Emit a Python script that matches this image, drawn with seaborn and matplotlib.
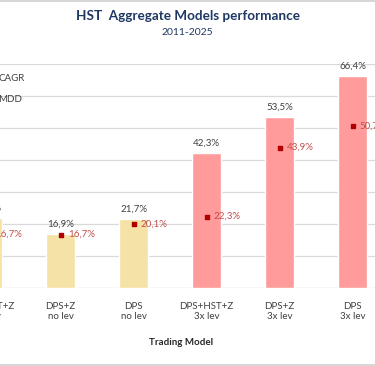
import numpy as np
import pandas as pd
import matplotlib
matplotlib.use("Agg")
import matplotlib.pyplot as plt
import seaborn as sns
from matplotlib.lines import Line2D
from matplotlib.patches import Patch

# dati (la prima barra e' tagliata a sinistra)
modelli = ["DPS+HST+Z\nno lev", "DPS+Z\nno lev", "DPS\nno lev",
           "DPS+HST+Z\n3x lev", "DPS+Z\n3x lev", "DPS\n3x lev"]
cagr = [21.9, 16.9, 21.7, 42.3, 53.5, 66.4]
mdd = [16.7, 16.7, 20.1, 22.3, 43.9, 50.7]
colori = ["#F5E2A6", "#F5E2A6", "#F5E2A6", "#FF9B9B", "#FF9B9B", "#FF9B9B"]

sns.set_style("white")
plt.rcParams["font.family"] = ["Lato", "DejaVu Sans"]

df = pd.DataFrame({"Modello": modelli, "CAGR": cagr, "MDD": mdd})

fig = plt.figure(figsize=(3.75, 3.66), dpi=100)
ax = fig.add_axes([0, 0.2131, 1, 0.612])

for v in range(10, 80, 10):
    ax.axhline(v, color="#D9D9D9", lw=0.9, zorder=0)
ax.axhline(0, color="#D9D9D9", lw=1.0, zorder=0)

x = np.arange(len(modelli))
sns.barplot(data=df, x=x, y="CAGR", hue=x, palette=colori, width=0.4,
            saturation=1, legend=False, ax=ax, zorder=2)
ax.set_xlim(0.171, 5.308)
ax.set_ylim(0, 70)

ax.scatter(x, df["MDD"], marker="s", s=12, color="#B00000", zorder=3)

for i in range(len(modelli)):
    ax.text(i, cagr[i] + 1.5, f"{cagr[i]:.1f}%".replace(".", ","),
            ha="center", va="bottom", fontsize=7, color="#404040")
    ax.text(i + 0.1, mdd[i], f"{mdd[i]:.1f}%".replace(".", ","),
            ha="left", va="center", fontsize=7, color="#C0504D")
    ax.text(i, -4.5, modelli[i], ha="center", va="top", fontsize=7,
            color="#404040", linespacing=1.15, clip_on=False)

ax.set_xticks([])
ax.set_yticks([])
ax.set_xlabel("")
ax.set_ylabel("")
for s in ax.spines.values():
    s.set_visible(False)

handles = [Patch(color="#F5E2A6", label="CAGR"),
           Line2D([], [], marker="s", ls="none", color="#B00000", markersize=4, label="MDD")]
leg = fig.legend(handles=handles, loc="upper left", bbox_to_anchor=(-0.075, 0.823),
                 frameon=False, fontsize=7, labelspacing=1.25, handlelength=1.0,
                 labelcolor="#404040")

fig.text(0.5, 0.955, "HST  Aggregate Models performance", ha="center", va="center",
         fontsize=9.7, fontweight="bold", color="#1F3864")
fig.text(0.5, 0.912, "2011-2025", ha="center", va="center", fontsize=7.5, color="#1F3864")
fig.text(0.483, 0.063, "Trading Model", ha="center", va="center", fontsize=7,
         fontweight="bold", color="#262626")

fig.add_artist(Line2D([0, 1], [0.998, 0.998], color="#D0D0D0", lw=1.2))
fig.add_artist(Line2D([0, 1], [0.004, 0.004], color="#D0D0D0", lw=1.2))

fig.savefig("out.png", dpi=100)
